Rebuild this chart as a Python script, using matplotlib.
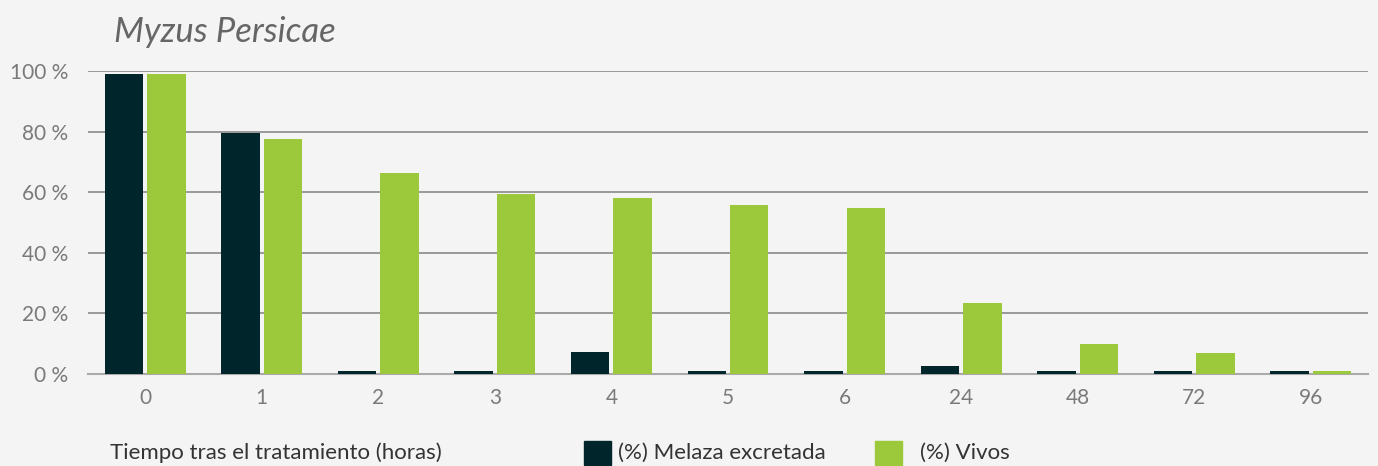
import matplotlib.pyplot as plt
from matplotlib.patches import Rectangle
import numpy as np

# data
horas = ["0", "1", "2", "3", "4", "5", "6", "24", "48", "72", "96"]
melaza = [99, 79.5, 1, 1, 7.3, 1, 1, 2.6, 1, 1, 1]
vivos = [99, 77.5, 66.3, 59.4, 58, 55.8, 54.8, 23.4, 9.9, 6.9, 1]
yticks = [0, 20, 40, 60, 80, 100]

DARK = "#00252a"
GREEN = "#9bc93b"
BG = "#f4f4f4"

plt.rcParams["font.family"] = ["Lato", "DejaVu Sans"]

fig = plt.figure(figsize=(13.78, 4.66), dpi=100, facecolor=BG)
ax = fig.add_axes([0.0639, 0.1974, 0.9288, 0.6502], facecolor=BG)

x = np.arange(len(horas))
w = 0.33
off = w / 2 + 0.017
ax.bar(x - off, melaza, width=w, color=DARK, zorder=3)
ax.bar(x + off, vivos, width=w, color=GREEN, zorder=3)

ax.set_xlim(-0.49, len(horas) - 0.51)
ax.set_ylim(0, 100)
ax.set_yticks(yticks)
ax.set_yticklabels([f"{v} %" for v in yticks])
ax.set_xticks(x)
ax.set_xticklabels(horas)
ax.tick_params(axis="both", length=0, labelsize=15, labelcolor="#7a7a7a")
ax.tick_params(axis="x", pad=10)
ax.tick_params(axis="y", pad=14)

ax.grid(axis="y", color="#8a8a8a", linewidth=1.2, zorder=0)
for s in ["top", "right", "left"]:
    ax.spines[s].set_visible(False)
ax.spines["bottom"].set_color("#aaaaaa")
ax.spines["bottom"].set_linewidth(1.5)

fig.text(114 / 1378, 1 - 42 / 466, "Myzus Persicae", fontsize=25, style="italic",
         color="#666666", va="baseline", ha="left")

base = 1 - 459 / 466
fig.text(110 / 1378, base, "Tiempo tras el tratamiento (horas)", fontsize=16,
         color="#333333", va="baseline", ha="left")

# legend
fig.patches.append(Rectangle((584 / 1378, 1 / 466), 27 / 1378, 24 / 466,
                             transform=fig.transFigure, color=DARK))
fig.text(618 / 1378, base, "(%) Melaza excretada", fontsize=16,
         color="#333333", va="baseline", ha="left")
fig.patches.append(Rectangle((875 / 1378, 1 / 466), 27 / 1378, 24 / 466,
                             transform=fig.transFigure, color=GREEN))
fig.text(920 / 1378, base, "(%) Vivos", fontsize=16,
         color="#333333", va="baseline", ha="left")

fig.savefig("out.png", dpi=100, facecolor=BG)
